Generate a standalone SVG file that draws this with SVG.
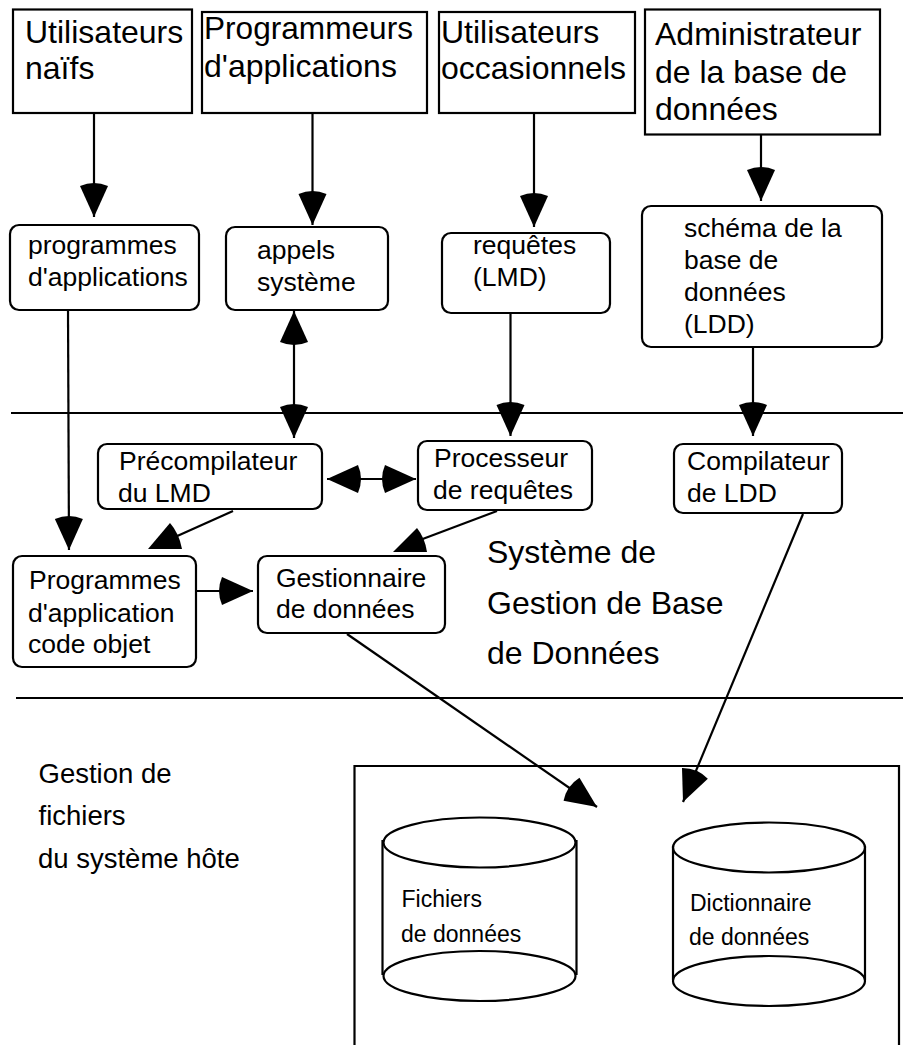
<svg xmlns="http://www.w3.org/2000/svg" width="903" height="1045" viewBox="0 0 903 1045">
<style>
text{font-family:"Liberation Sans",Arial,sans-serif;fill:#000}
.xl{font-size:32px}
.l{font-size:26.5px}
.m{font-size:27.5px}
.s{font-size:23px}
.b{fill:#fff;stroke:#000;stroke-width:2.2}
.e{fill:none;stroke:#000;stroke-width:2.2}
.c{fill:none;stroke:#000;stroke-width:2.2}
.a{marker-end:url(#h)}
.d{marker-start:url(#h);marker-end:url(#h)}
.h{fill:#000;stroke:none}
</style>
<defs>
<marker id="h" markerUnits="userSpaceOnUse" viewBox="-38 -16 40 32" markerWidth="40" markerHeight="32" refX="0" refY="0" orient="auto-start-reverse" overflow="visible">
<path d="M0,0L-31,-14Q-37,0 -31,14Z" fill="#000"/>
</marker>
</defs>
<rect width="903" height="1045" fill="#fff"/>
<g id="frame"><path class="e" d="M354.500,1045V766H899V1045"/></g>
<g id="utilisateurs-naifs"><rect class="b" x="13" y="9.500" width="179" height="103.500"/><text class="xl" x="25" y="43">Utilisateurs</text><text class="xl" x="25" y="79">naïfs</text></g>
<g id="programmeurs"><rect class="b" x="202" y="12" width="225" height="101"/><text class="xl" x="204" y="39" textLength="209" lengthAdjust="spacingAndGlyphs">Programmeurs</text><text class="xl" x="204" y="77">d'applications</text></g>
<g id="utilisateurs-occasionnels"><rect class="b" x="439" y="12" width="196" height="101"/><text class="xl" x="441" y="43">Utilisateurs</text><text class="xl" x="441" y="79">occasionnels</text></g>
<g id="administrateur"><rect class="b" x="645" y="9.500" width="235" height="125"/><text class="xl" x="655" y="45">Administrateur</text><text class="xl" x="655" y="83">de la base de</text><text class="xl" x="655" y="120">données</text></g>
<g id="programmes-applications"><rect class="b" x="10" y="225" width="189" height="85" rx="9"/><text class="l" x="28" y="254">programmes</text><text class="l" x="28" y="286">d'applications</text></g>
<g id="appels-systeme"><rect class="b" x="226" y="227" width="162" height="83" rx="9"/><text class="l" x="257" y="259">appels</text><text class="l" x="257" y="291">système</text></g>
<g id="requetes"><rect class="b" x="442" y="233" width="168" height="80" rx="9"/><text class="l" x="473" y="254">requêtes</text><text class="l" x="473" y="286">(LMD)</text></g>
<g id="schema"><rect class="b" x="642" y="206" width="240" height="141" rx="9"/><text class="l" x="684" y="237">schéma de la</text><text class="l" x="684" y="269">base de</text><text class="l" x="684" y="301">données</text><text class="l" x="684" y="333">(LDD)</text></g>
<g id="lignes"><path class="c" d="M11,413H903M16,698H903"/></g>
<g id="precompilateur"><rect class="b" x="98" y="444" width="224" height="65" rx="9"/><text class="l" x="119" y="470">Précompilateur</text><text class="l" x="118" y="502">du LMD</text></g>
<g id="processeur"><rect class="b" x="418" y="441" width="174" height="69" rx="9"/><text class="l" x="434" y="467">Processeur</text><text class="l" x="433" y="499">de requêtes</text></g>
<g id="compilateur"><rect class="b" x="674" y="444" width="168" height="69" rx="9"/><text class="l" x="687" y="470">Compilateur</text><text class="l" x="687" y="502">de LDD</text></g>
<g id="programmes-objet"><rect class="b" x="13" y="556" width="183" height="111" rx="9"/><text class="l" x="29" y="589">Programmes</text><text class="l" x="28" y="622">d'application</text><text class="l" x="28" y="653">code objet</text></g>
<g id="gestionnaire"><rect class="b" x="258" y="556" width="187" height="77" rx="9"/><text class="l" x="276" y="587">Gestionnaire</text><text class="l" x="276" y="618">de données</text></g>
<g id="sgbd"><text class="xl" x="487" y="563">Système de</text><text class="xl" x="487" y="614">Gestion de Base</text><text class="xl" x="487" y="664">de Données</text></g>
<g id="gestion-fichiers"><text class="m" x="38.500" y="783">Gestion de</text><text class="m" x="38.500" y="825">fichiers</text><text class="m" x="38" y="868">du système hôte</text></g>
<g id="fichiers"><path class="e" d="M382.500,840V975M576.500,840V975"/><ellipse class="e" cx="479.500" cy="842.500" rx="96" ry="25"/><ellipse class="e" cx="479.500" cy="976" rx="96" ry="25"/><text class="s" x="401.500" y="907">Fichiers</text><text class="s" x="401" y="942">de données</text></g>
<g id="dictionnaire"><path class="e" d="M673,846V980M865,846V980"/><ellipse class="e" cx="769" cy="847.500" rx="96" ry="25"/><ellipse class="e" cx="769" cy="981" rx="96" ry="25"/><text class="s" x="690" y="910.500">Dictionnaire</text><text class="s" x="689" y="945">de données</text></g>
<g id="connecteurs">
<path class="c a" d="M94,113V217"/>
<path class="c a" d="M312.500,113V225"/>
<path class="c a" d="M534,113V227"/>
<path class="c a" d="M761,134V201"/>
<path class="c d" d="M294,311V438"/>
<path class="c a" d="M68,310L69,550"/>
<path class="c a" d="M510.500,313V436"/>
<path class="c a" d="M753,347V436"/>
<path class="c d" d="M327,479H416"/>
<path class="c" d="M233,511L175,537"/>
<path class="h" d="M148,549L170,523Q179,533 182,549Z"/>
<path class="c" d="M497,511L420,540"/>
<path class="h" d="M393,552L417,528Q425,538 427,552Z"/>
<path class="c a" d="M196,591H253"/>
<path class="c a" d="M347,634L597,807"/>
<path class="c a" d="M803,514L683,802"/>
</g>
</svg>
